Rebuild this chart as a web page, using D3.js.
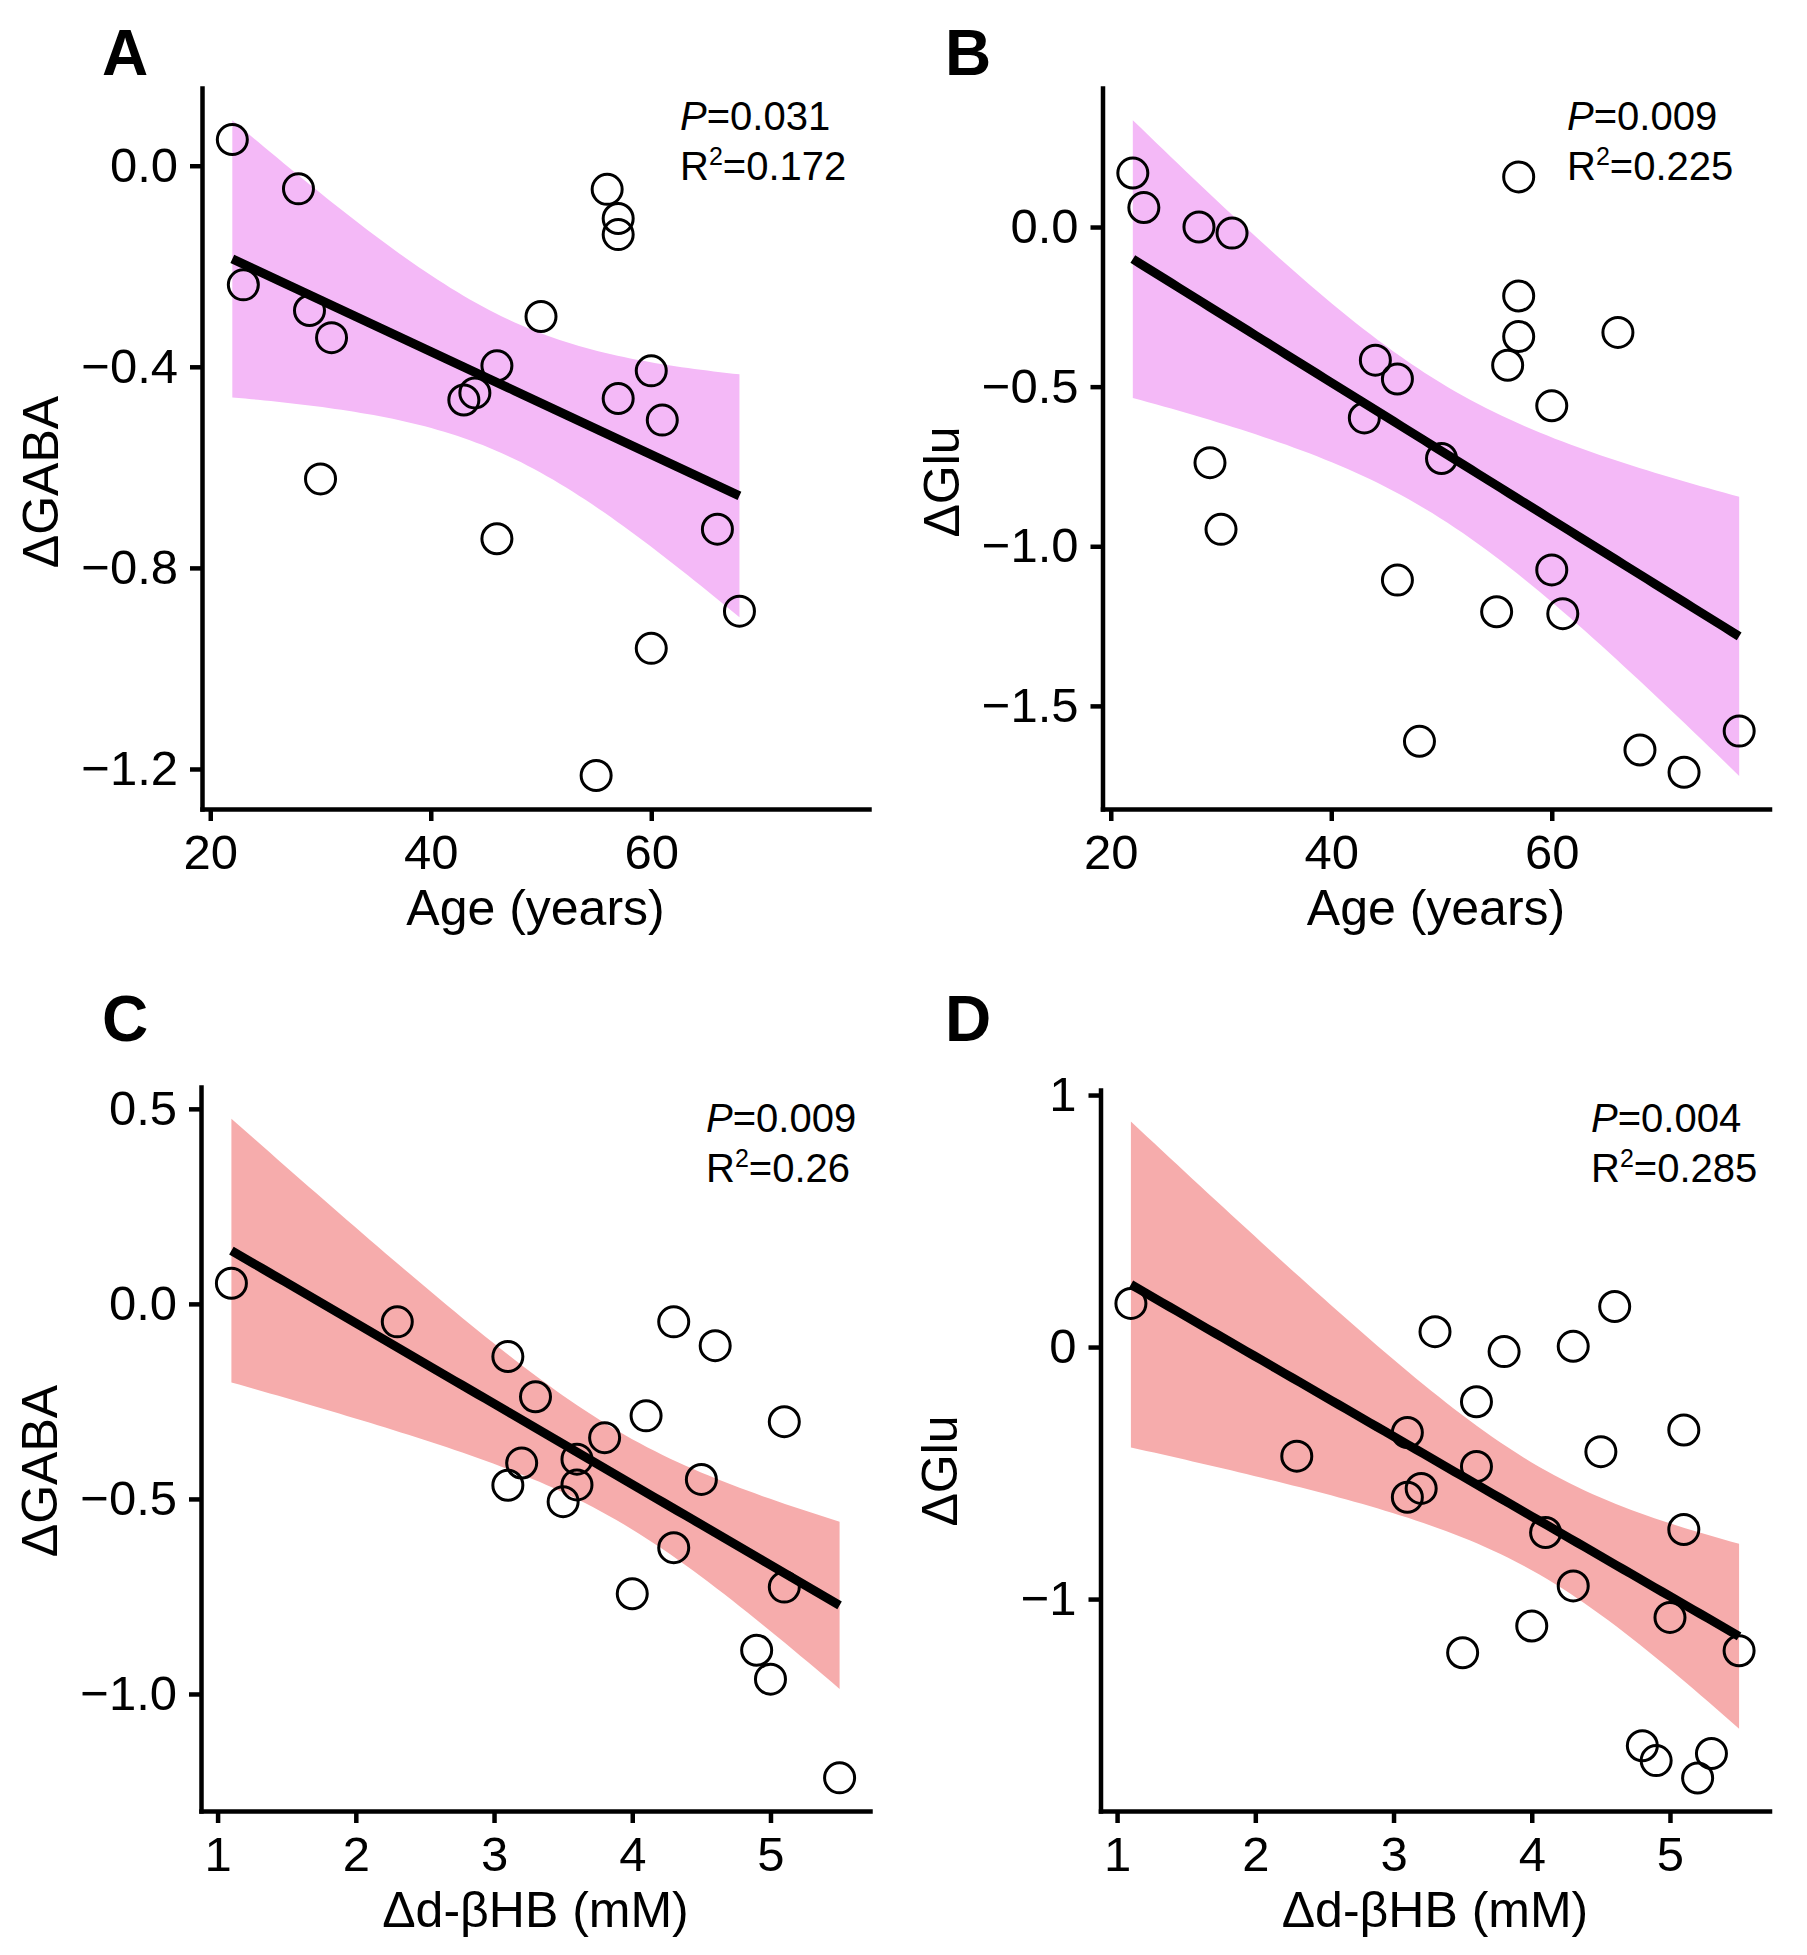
<!DOCTYPE html>
<html>
<head>
<meta charset="utf-8">
<script src="https://cdn.jsdelivr.net/npm/d3@7"></script>
<style>
  html, body { margin: 0; padding: 0; background: #fff; }
  svg { display: block; font-family: "Liberation Sans", Arial, Helvetica, sans-serif; }
</style>
</head>
<body>
<svg id="chart" width="1807" height="1955"></svg>
<script>
// ---------------- DATA ----------------
// Panel A: Age vs ΔGABA
const ageA  = [22, 23, 28, 29, 31, 30, 43, 44, 46, 46, 50, 56, 57, 57, 57, 60, 61, 60, 55, 66, 68];
const gabaA = [0.052, -0.237, -0.046, -0.288, -0.342, -0.623, -0.466, -0.452, -0.398, -0.742, -0.300,
               -0.047, -0.105, -0.137, -0.463, -0.408, -0.506, -0.960, -1.213, -0.723, -0.886];
// Panel B: Age vs ΔGlu
const ageB  = [22, 23, 28, 31, 29, 30, 43, 44, 46, 46, 48, 50, 55, 56, 57, 57, 57, 60, 60, 61, 66, 68, 72, 77];
const gluB  = [0.169, 0.061, 0.000, -0.019, -0.738, -0.947, -0.598, -0.417, -0.476, -1.106, -1.611, -0.725,
               -1.205, -0.433, 0.157, -0.216, -0.343, -0.560, -1.074, -1.211, -0.330, -1.638, -1.708, -1.579];
// Panel C: Δd-βHB vs ΔGABA
const bhbC  = [1.1, 2.3, 3.1, 3.3, 3.2, 3.1, 3.5, 3.6, 3.6, 3.8, 4.1, 4.0, 4.3, 4.3, 4.5, 4.6, 5.1, 5.1, 4.9, 5.0, 5.5];
const gabaC = [0.053, -0.046, -0.135, -0.238, -0.408, -0.465, -0.507, -0.398, -0.464, -0.343, -0.287, -0.743,
               -0.046, -0.625, -0.450, -0.107, -0.302, -0.726, -0.888, -0.962, -1.215];
// Panel D: Δd-βHB vs ΔGlu
const bhbD  = [1.1, 2.3, 3.1, 3.3, 3.2, 3.1, 3.5, 3.6, 3.6, 3.8, 4.1, 4.0, 4.3, 4.3, 4.5, 4.6, 5.1, 5.1, 5.0, 5.5, 4.8, 4.9, 5.3, 5.2];
const gluD  = [0.173, -0.433, -0.339, 0.061, -0.561, -0.596, -1.213, -0.217, -0.474, -0.018, -0.736, -1.107,
               0.003, -0.948, -0.415, 0.161, -0.329, -0.724, -1.073, -1.205, -1.582, -1.641, -1.613, -1.710];

// Tick values
const ageTicks  = [20, 40, 60];
const bhbTicks  = [1, 2, 3, 4, 5];
const yTicksA   = [0.0, -0.4, -0.8, -1.2];
const yTicksB   = [0.0, -0.5, -1.0, -1.5];
const yTicksC   = [0.5, 0.0, -0.5, -1.0];
const yTicksD   = [1, 0, -1];

// Axis limits
const ageLim  = [19.25, 79.75];
const bhbLim  = [0.88, 5.72];
const yLimA   = [-1.2796, 0.1546];
const yLimB   = [-1.823, 0.4355];
const yLimC   = [-1.30, 0.556];
const yLimD   = [-1.841, 1.02];

// Labels / stats
const panelLetters = ["A", "B", "C", "D"];
const xTitles = ["Age (years)", "Age (years)", "Δd-βHB (mM)", "Δd-βHB (mM)"];
const yTitles = ["ΔGABA", "ΔGlu", "ΔGABA", "ΔGlu"];
const pValues = ["0.031", "0.009", "0.009", "0.004"];
const r2Values = ["0.172", "0.225", "0.26", "0.285"];

// ---------------- LAYOUT ----------------
const panels = [
  { x: ageA, y: gabaA, xLim: ageLim, yLim: yLimA, xT: ageTicks, yT: yTicksA, yFmt: ".1f",
    left: 202, right: 869, top: 88, bottom: 809, fill: "#F4B9F7",
    letterX: 102, letterY: 75, annX: 680, annY: 130, yTitleY: 482 },
  { x: ageB, y: gluB, xLim: ageLim, yLim: yLimB, xT: ageTicks, yT: yTicksB, yFmt: ".1f",
    left: 1102.5, right: 1769.5, top: 88, bottom: 809, fill: "#F4B9F7",
    letterX: 945, letterY: 75, annX: 1567, annY: 130, yTitleY: 482 },
  { x: bhbC, y: gabaC, xLim: bhbLim, yLim: yLimC, xT: bhbTicks, yT: yTicksC, yFmt: ".1f",
    left: 201, right: 870, top: 1087, bottom: 1811, fill: "#F6ACAC",
    letterX: 102, letterY: 1041, annX: 706, annY: 1132, yTitleY: 1471 },
  { x: bhbD, y: gluD, xLim: bhbLim, yLim: yLimD, xT: bhbTicks, yT: yTicksD, yFmt: "d",
    left: 1100.5, right: 1769.5, top: 1090, bottom: 1811, fill: "#F6ACAC",
    letterX: 945, letterY: 1041, annX: 1591, annY: 1132, yTitleY: 1471 }
];

const svg = d3.select("#chart");
svg.append("rect").attr("width", 1807).attr("height", 1955).attr("fill", "#fff");

// t quantile (0.975) via Cornish-Fisher expansion
function tq975(v) {
  const z = 1.959963985;
  const z3 = z ** 3, z5 = z ** 5, z7 = z ** 7, z9 = z ** 9;
  const g1 = (z3 + z) / 4;
  const g2 = (5 * z5 + 16 * z3 + 3 * z) / 96;
  const g3 = (3 * z7 + 19 * z5 + 17 * z3 - 15 * z) / 384;
  const g4 = (79 * z9 + 776 * z7 + 1482 * z5 - 1920 * z3 - 945 * z) / 92160;
  return z + g1 / v + g2 / v ** 2 + g3 / v ** 3 + g4 / v ** 4;
}

function linfit(xs, ys) {
  const n = xs.length;
  const mx = d3.mean(xs), my = d3.mean(ys);
  let sxx = 0, sxy = 0;
  for (let i = 0; i < n; i++) { sxx += (xs[i] - mx) ** 2; sxy += (xs[i] - mx) * (ys[i] - my); }
  const b = sxy / sxx, a = my - b * mx;
  let sse = 0;
  for (let i = 0; i < n; i++) sse += (ys[i] - a - b * xs[i]) ** 2;
  const s = Math.sqrt(sse / (n - 2));
  const t = tq975(n - 2);
  return x => {
    const yh = a + b * x;
    const se = s * Math.sqrt(1 / n + (x - mx) ** 2 / sxx);
    return { x, y: yh, lo: yh - t * se, hi: yh + t * se };
  };
}

panels.forEach((p, i) => {
  const g = svg.append("g");
  const xs = d3.scaleLinear().domain(p.xLim).range([p.left, p.right]);
  const ys = d3.scaleLinear().domain(p.yLim).range([p.bottom, p.top]);

  // smooth
  const f = linfit(p.x, p.y);
  const [xmin, xmax] = d3.extent(p.x);
  const grid = d3.range(80).map(k => f(xmin + (xmax - xmin) * k / 79));

  g.append("path")
    .datum(grid)
    .attr("fill", p.fill)
    .attr("d", d3.area().x(d => xs(d.x)).y0(d => ys(d.lo)).y1(d => ys(d.hi)));

  g.append("path")
    .datum(grid)
    .attr("fill", "none")
    .attr("stroke", "#000")
    .attr("stroke-width", 9)
    .attr("d", d3.line().x(d => xs(d.x)).y(d => ys(d.y)));

  // points
  g.selectAll("circle.pt")
    .data(p.x.map((v, k) => [v, p.y[k]]))
    .join("circle")
    .attr("class", "pt")
    .attr("cx", d => xs(d[0]))
    .attr("cy", d => ys(d[1]))
    .attr("r", 15)
    .attr("fill", "none")
    .attr("stroke", "#000")
    .attr("stroke-width", 3);

  // axes
  const fmt = d3.format(p.yFmt);
  const ax = g.append("g")
    .attr("transform", `translate(0,${p.bottom})`)
    .call(d3.axisBottom(xs).tickValues(p.xT).tickSize(12).tickSizeOuter(0).tickPadding(13).tickFormat(d3.format("d")));
  const ay = g.append("g")
    .attr("transform", `translate(${p.left},0)`)
    .call(d3.axisLeft(ys).tickValues(p.yT).tickSize(12).tickSizeOuter(0).tickPadding(12).tickFormat(fmt));
  [ax, ay].forEach(a => {
    a.select(".domain").attr("stroke", "#000").attr("stroke-width", 4.5).attr("stroke-linecap", "square");
    a.selectAll(".tick line").attr("stroke", "#000").attr("stroke-width", 4.5);
    a.selectAll(".tick text").attr("fill", "#000").attr("font-size", 49)
      .attr("font-family", "'Liberation Sans', Arial, Helvetica, sans-serif");
  });

  // titles
  g.append("text")
    .attr("x", (p.left + p.right) / 2)
    .attr("y", p.bottom + 116)
    .attr("text-anchor", "middle")
    .attr("font-size", 50)
    .text(xTitles[i]);
  g.append("text")
    .attr("transform", `translate(${p.left - 144},${p.yTitleY}) rotate(-90)`)
    .attr("text-anchor", "middle")
    .attr("font-size", 50)
    .text(yTitles[i]);

  // panel letter
  g.append("text")
    .attr("x", p.letterX).attr("y", p.letterY)
    .attr("font-size", 64).attr("font-weight", "bold")
    .text(panelLetters[i]);

  // annotation
  const t1 = g.append("text").attr("x", p.annX).attr("y", p.annY).attr("font-size", 40);
  t1.append("tspan").attr("font-style", "italic").text("P");
  t1.append("tspan").text("=" + pValues[i]);
  const t2 = g.append("text").attr("x", p.annX).attr("y", p.annY + 50).attr("font-size", 40);
  t2.append("tspan").text("R");
  t2.append("tspan").attr("font-size", 25).attr("dy", -15).text("2");
  t2.append("tspan").attr("dy", 15).text("=" + r2Values[i]);
});
</script>
</body>
</html>
